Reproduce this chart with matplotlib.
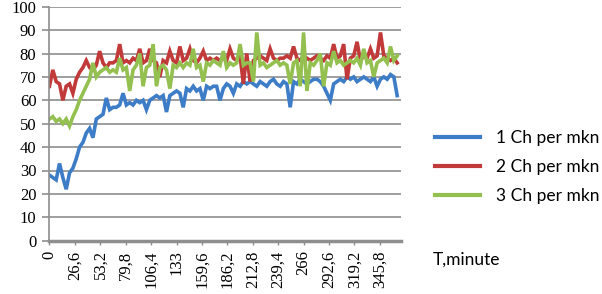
import matplotlib
matplotlib.use('Agg')
import matplotlib.pyplot as plt

plt.rcParams['font.family'] = ['Liberation Serif', 'DejaVu Serif']

# time step between samples, minutes
step = 3.5

ch1 = [28, 27, 26, 33, 27, 22, 29, 31, 35, 40,
       42, 46, 48, 44, 52, 53, 54, 61, 56, 57,
       57, 58, 63, 58, 59, 58, 60, 59, 60, 56,
       60, 61, 62, 61, 62, 55, 62, 63, 64, 63,
       57, 65, 64, 66, 64, 65, 60, 66, 65, 66,
       66, 60, 65, 67, 66, 63, 67, 66, 68, 67,
       68, 67, 66, 68, 67, 66, 68, 69, 67, 66,
       68, 67, 57, 68, 67, 69, 68, 67, 68, 69,
       69, 68, 66, 63, 60, 67, 68, 69, 68, 70,
       69, 70, 68, 69, 70, 69, 68, 70, 66, 69,
       70, 69, 71, 70, 62]

ch2 = [66, 73, 68, 67, 60, 66, 67, 63, 69, 72,
       74, 77, 74, 73, 75, 81, 76, 74, 76, 76,
       77, 84, 76, 77, 76, 78, 77, 82, 76, 77,
       82, 77, 76, 70, 77, 76, 81, 77, 76, 83,
       77, 78, 82, 77, 76, 78, 81, 77, 78, 77,
       78, 77, 78, 77, 82, 78, 77, 79, 67, 80,
       68, 77, 78, 79, 78, 77, 82, 78, 77, 78,
       78, 79, 78, 83, 78, 77, 79, 78, 77, 78,
       79, 78, 77, 79, 78, 84, 78, 79, 84, 69,
       78, 79, 85, 77, 79, 78, 82, 78, 79, 89,
       79, 78, 77, 78, 76]

ch3 = [52, 53, 51, 52, 50, 52, 49, 53, 56, 60,
       63, 66, 69, 76, 70, 72, 73, 74, 72, 73,
       72, 78, 73, 74, 64, 73, 75, 80, 66, 74,
       75, 84, 66, 74, 75, 73, 65, 75, 74, 76,
       74, 76, 75, 82, 74, 75, 68, 76, 75, 77,
       76, 75, 81, 74, 76, 75, 76, 84, 75, 76,
       76, 68, 89, 75, 76, 74, 75, 76, 77, 75,
       76, 75, 67, 76, 77, 66, 89, 64, 76, 75,
       77, 80, 66, 76, 75, 81, 76, 77, 75, 76,
       77, 76, 78, 75, 82, 76, 77, 70, 76, 77,
       78, 76, 83, 77, 79]

names = ['1 Ch per mkn', '2 Ch per mkn', '3 Ch per mkn']
colors = ['#3d7cc6', '#c2393a', '#93c04f']

xticks = [0, 26.6, 53.2, 79.8, 106.4, 133, 159.6, 186.2, 212.8,
          239.4, 266, 292.6, 319.2, 345.8]
xlabels = [('%g' % v).replace('.', ',') for v in xticks]

t = [i * step for i in range(len(ch1))]

fig = plt.figure(figsize=(6.02, 2.94), dpi=100)
ax = fig.add_axes([49 / 602, 1 - 240.7 / 294, (401 - 49) / 602, (240.7 - 6.7) / 294])

for y, c, n in zip([ch1, ch2, ch3], colors, names):
  ax.plot(t, y, color=c, lw=2.6, label=n, solid_joinstyle='miter')

ax.set_xlim(-0.5, 368)
ax.set_ylim(0, 100)
ax.set_yticks(range(0, 101, 10))
ax.set_xticks(xticks)
ax.set_xticklabels(xlabels, rotation=90)
ax.grid(axis='y', color='#8e8e8e', lw=1.2)
ax.set_axisbelow(True)

for s in ['top', 'right']:
  ax.spines[s].set_visible(False)
ax.spines['left'].set_color('#8e8e8e')
ax.spines['left'].set_linewidth(1.2)
ax.spines['bottom'].set_color('#8e8e8e')
ax.spines['bottom'].set_linewidth(2.5)

ax.tick_params(axis='y', length=5, width=1.2, color='#8e8e8e', pad=4, labelsize=12)
ax.tick_params(axis='x', length=3, width=1, color='#8e8e8e', pad=4, labelsize=12)

leg = ax.legend(loc='upper left', bbox_to_anchor=(428 / 602, 1 - 123 / 294),
                bbox_transform=fig.transFigure, frameon=False,
                prop={'family': 'Lato', 'size': 12.5}, handlelength=2.6,
                handletextpad=0.9, labelspacing=0.75, borderaxespad=0)
for h in leg.get_lines():
  h.set_linewidth(3)

fig.text(433 / 602, 1 - 260 / 294, 'T,minute', family='Lato', size=12.5,
         va='center', ha='left')

fig.savefig('out.png', dpi=100)
